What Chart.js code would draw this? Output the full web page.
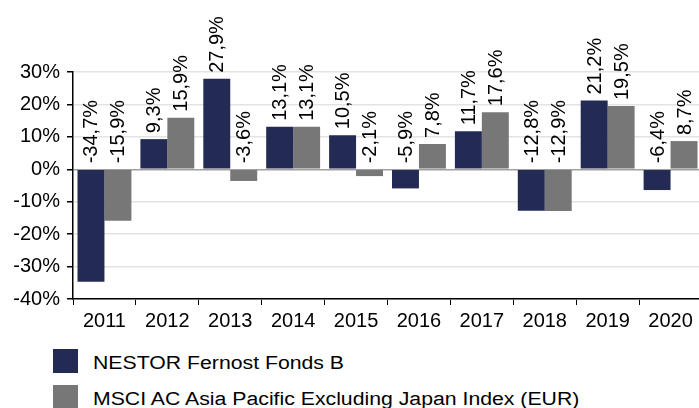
<!DOCTYPE html>
<html>
<head>
<meta charset="utf-8">
<script src="https://cdn.jsdelivr.net/npm/chart.js@4.4.0/dist/chart.umd.min.js"></script>
<style>
    html, body { margin: 0; padding: 0; background: #fff; overflow: hidden; }
    #wrap { position: relative; width: 699px; height: 408px; overflow: hidden; }
    #chart-box { position: absolute; left: 0; top: 0; width: 702px; height: 333px; }
    .legend-item { position: absolute; left: 53px; font: 18px "Liberation Sans", Arial, sans-serif; color: #000; white-space: nowrap; }
    .legend-item .swatch { position: absolute; left: 0; top: 0; width: 25px; height: 24px; }
    .legend-item .txt { position: absolute; left: 40px; top: 2px; line-height: 24px; transform: scaleX(1.18); transform-origin: 0 50%; }
</style>
</head>
<body>
<div id="wrap">
    <div id="chart-box"><canvas id="c"></canvas></div>
    <div id="legend"></div>
</div>
<script>
    'use strict';

    var years = ['2011', '2012', '2013', '2014', '2015', '2016', '2017', '2018', '2019', '2020'];
    var fundValues = [-34.7, 9.3, 27.9, 13.1, 10.5, -5.9, 11.7, -12.8, 21.2, -6.4];
    var indexValues = [-15.9, 15.9, -3.6, 13.1, -2.1, 7.8, 17.6, -12.9, 19.5, 8.7];
    var seriesNames = ['NESTOR Fernost Fonds B', 'MSCI AC Asia Pacific Excluding Japan Index (EUR)'];
    var seriesColors = ['#232b55', '#777777'];
    var yTicks = [-40, -30, -20, -10, 0, 10, 20, 30];

    var FONT = '"Liberation Sans", Arial, sans-serif';

    function fmt (v) {
        return v.toFixed(1).replace('.', ',') + '%';
    }

    // rotated value labels above the bar (or above the zero line for negatives)
    var valueLabels = {
        id: 'valueLabels',
        afterDatasetsDraw: function (chart) {
            var ctx = chart.ctx,
                yScale = chart.scales.y,
                zero = yScale.getPixelForValue(0);

            ctx.save();
            ctx.font = '20px ' + FONT;
            ctx.fillStyle = '#000';
            ctx.textAlign = 'left';
            ctx.textBaseline = 'middle';

            chart.data.datasets.forEach(function (ds, di) {
                chart.getDatasetMeta(di).data.forEach(function (bar, i) {
                    var v = ds.data[i],
                        base = v >= 0 ? bar.y : zero;
                    ctx.save();
                    ctx.translate(bar.x, base - 6);
                    ctx.rotate(-Math.PI / 2);
                    ctx.fillText(fmt(v), 0, 1);
                    ctx.restore();
                });
            });
            ctx.restore();
        }
    };

    new Chart(document.getElementById('c'), {
        type: 'bar',
        data: {
            labels: years,
            datasets: [
                { label: seriesNames[0], data: fundValues, backgroundColor: seriesColors[0] },
                { label: seriesNames[1], data: indexValues, backgroundColor: seriesColors[1] }
            ]
        },
        options: {
            responsive: true,
            maintainAspectRatio: false,
            animation: false,
            devicePixelRatio: 1,
            layout: { padding: { top: 72, right: 0, bottom: 0, left: 0 } },
            datasets: {
                bar: { barPercentage: 1, categoryPercentage: 0.857, borderWidth: 0 }
            },
            plugins: {
                legend: { display: false },
                tooltip: { enabled: false }
            },
            scales: {
                x: {
                    grid: {
                        display: true,
                        drawOnChartArea: false,
                        tickLength: 6,
                        tickColor: '#000',
                        color: '#000'
                    },
                    border: { color: '#000', width: 1.5 },
                    ticks: {
                        color: '#000',
                        padding: 4,
                        font: { family: FONT, size: 20 },
                        maxRotation: 0
                    },
                    afterFit: function (scale) { scale.height = 34; }
                },
                y: {
                    min: -40,
                    max: 30,
                    afterBuildTicks: function (scale) {
                        scale.ticks = yTicks.map(function (v) { return { value: v }; });
                    },
                    grid: {
                        color: function (c) { return c.tick && c.tick.value === 0 ? '#a0a0a0' : '#e3e3e3'; },
                        lineWidth: 1.5,
                        tickLength: 6,
                        tickColor: '#000'
                    },
                    border: { color: '#000', width: 1.5 },
                    ticks: {
                        color: '#000',
                        padding: 7,
                        font: { family: FONT, size: 20 },
                        callback: function (v) { return v + '%'; }
                    },
                    afterFit: function (scale) { scale.width = 73; }
                }
            }
        },
        plugins: [valueLabels]
    });

    // simple two-row legend under the chart
    var legend = document.getElementById('legend'),
        rowTops = [349, 385];
    seriesNames.forEach(function (name, i) {
        var item = document.createElement('div');
        item.className = 'legend-item';
        item.style.top = rowTops[i] + 'px';
        item.innerHTML = '<div class="swatch" style="background:' + seriesColors[i] + '"></div>' +
            '<div class="txt">' + name + '</div>';
        legend.appendChild(item);
    });
</script>
</body>
</html>
